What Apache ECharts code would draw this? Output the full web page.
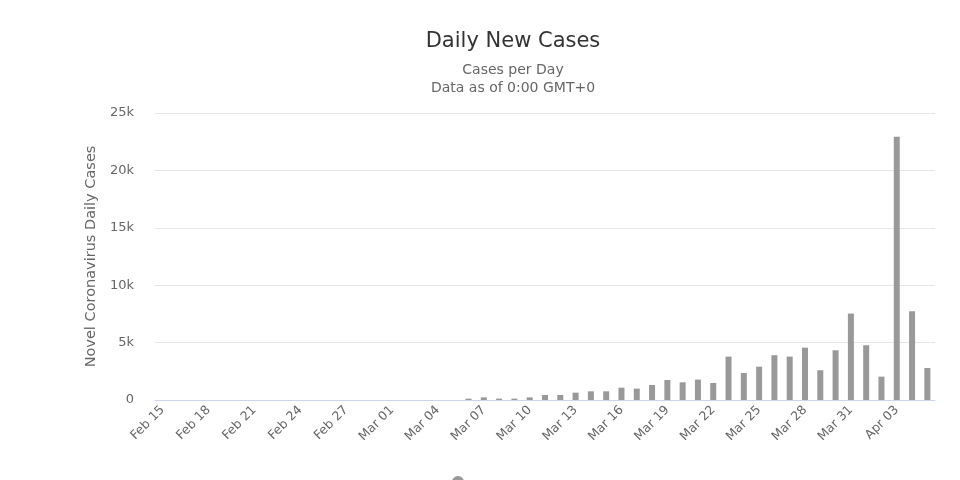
<!DOCTYPE html>
<html>
<head>
<meta charset="utf-8">
<script src="https://cdn.jsdelivr.net/npm/echarts@6/dist/echarts.min.js"></script>
<style>
html,body{margin:0;padding:0;background:#fff;}
#chart{width:960px;height:480px;}
</style>
</head>
<body>
<div id="chart"></div>
<script>
var categories = [
  'Feb 15','Feb 16','Feb 17','Feb 18','Feb 19','Feb 20','Feb 21','Feb 22','Feb 23','Feb 24','Feb 25','Feb 26','Feb 27','Feb 28','Feb 29',
  'Mar 01','Mar 02','Mar 03','Mar 04','Mar 05','Mar 06','Mar 07','Mar 08','Mar 09','Mar 10',
  'Mar 11','Mar 12','Mar 13','Mar 14','Mar 15','Mar 16','Mar 17','Mar 18','Mar 19','Mar 20',
  'Mar 21','Mar 22','Mar 23','Mar 24','Mar 25','Mar 26','Mar 27','Mar 28','Mar 29','Mar 30','Mar 31',
  'Apr 01','Apr 02','Apr 03','Apr 04','Apr 05'
];
var dailyCases = [
  0,0,0,0,0,0,0,0,0,0,0,0,0,0,0,
  0,0,0,0,0,115,230,120,120,230,
  440,440,640,755,755,1075,990,1310,1745,1540,
  1780,1480,3780,2355,2900,3900,3780,4560,2590,4330,7530,
  4770,2035,22935,7730,2790
];
var yTicks = { min: 0, max: 25000, interval: 5000 };
var titleText = 'Daily New Cases';
var subText = 'Cases per Day\nData as of 0:00 GMT+0';
var yName = 'Novel Coronavirus Daily Cases';
var seriesName = 'Daily Cases';

var chart = echarts.init(document.getElementById('chart'), null, {renderer:'canvas'});
var FONT = '"DejaVu Sans", "Lucida Grande", sans-serif';
chart.setOption({
  animation: false,
  backgroundColor: '#ffffff',
  textStyle: { fontFamily: FONT },
  title: {
    text: titleText,
    subtext: subText,
    left: 508,
    textAlign: 'center',
    top: 26,
    itemGap: 9,
    textStyle: { fontSize: 21, fontWeight: 'normal', color: '#333333', fontFamily: FONT },
    subtextStyle: { fontSize: 14, color: '#666666', lineHeight: 18, fontFamily: FONT }
  },
  legend: {
    data: [{ name: seriesName, icon: 'circle' }],
    left: 447,
    top: 471,
    itemWidth: 12,
    itemHeight: 12,
    formatter: function () { return ''; },
    textStyle: { fontSize: 12, color: '#333333', fontWeight: 'bold' }
  },
  grid: { left: 155, right: 25, top: 113, bottom: 80 },
  xAxis: {
    type: 'category',
    data: categories,
    axisLine: { lineStyle: { color: '#ccd6eb', width: 1 } },
    axisTick: { show: false },
    axisLabel: {
      interval: 2,
      rotate: 45,
      color: '#666666',
      fontSize: 12.5,
      margin: 8,
      fontFamily: FONT
    }
  },
  yAxis: {
    type: 'value',
    min: yTicks.min,
    max: yTicks.max,
    interval: yTicks.interval,
    name: yName,
    nameLocation: 'middle',
    nameGap: 56,
    nameRotate: 90,
    nameTextStyle: { color: '#666666', fontSize: 14.5, fontFamily: FONT },
    axisLine: { show: false },
    axisTick: { show: false },
    splitLine: { lineStyle: { color: '#e6e6e6', width: 1 } },
    axisLabel: {
      color: '#666666',
      fontSize: 13,
      margin: 21,
      fontFamily: FONT,
      formatter: function (v) { return v === 0 ? '0' : (v / 1000) + 'k'; }
    }
  },
  series: [{
    name: seriesName,
    type: 'bar',
    data: dailyCases,
    barWidth: 6,
    itemStyle: { color: '#999999' }
  }]
});
</script>
</body>
</html>
